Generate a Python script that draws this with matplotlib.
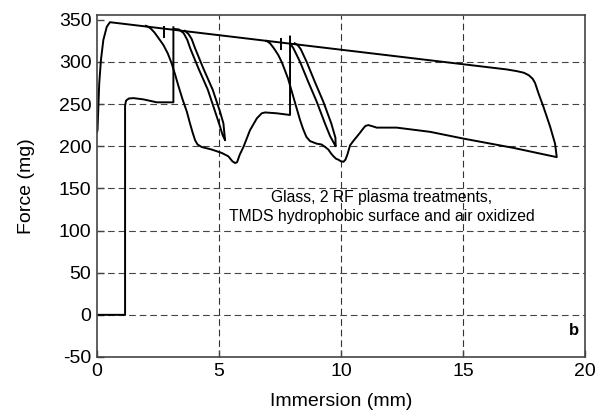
import numpy as np
import matplotlib
matplotlib.use("Agg")
import matplotlib.pyplot as plt

plt.rcParams['font.family'] = ['Liberation Sans', 'DejaVu Sans']
plt.rcParams['axes.unicode_minus'] = False

# first immersion: baseline, contact jump, plateau, jump to the top line
first_x = [0.05, 1.15, 1.15, 1.19, 1.30, 1.49, 1.90, 2.45, 3.13, 3.13]
first_f = [0, 0, 248, 254, 256.5, 257, 255.5, 252, 252, 341]

# hairpin after the first jump (turn at ~5 mm)
hp1_x = [3.13, 3.35, 3.55, 3.70, 3.82, 4.16, 4.54, 4.84, 5.00, 5.15, 5.25,
         5.22, 5.18, 5.04, 4.74, 4.36, 4.02, 3.88, 3.75, 3.60]
hp1_f = [339, 338.5, 334, 326, 316, 292, 267, 241, 227, 213, 207,
         215, 227, 241, 267, 292, 316, 327, 333, 336.8]

# second cycle: off the top line, minimum near 5.7 mm, plateau, jump
cyc2_x = [2.00, 2.10, 2.20, 2.35, 2.50, 2.72, 2.90, 3.06, 3.20, 3.33, 3.50,
          3.68, 3.81, 3.92, 4.02, 4.12, 4.29, 4.70, 5.11, 5.38, 5.55, 5.66,
          5.74, 5.85, 6.00, 6.27, 6.55, 6.75, 6.89, 7.36, 7.91, 7.91]
cyc2_f = [342.7, 341.5, 339.5, 335, 329, 320, 310, 298, 285, 272, 256,
          241, 227, 216, 207, 202, 199, 196, 192, 188, 182, 180,
          181, 190, 199, 219, 233, 239, 240, 239, 237, 330]

# hairpin after the second jump (turn at ~10 mm)
hp2_x = [7.91, 8.05, 8.32, 8.66, 9.00, 9.34, 9.55, 9.72, 9.78,
         9.77, 9.60, 9.27, 8.93, 8.59, 8.35, 8.22, 8.10]
hp2_f = [322, 316, 300, 276, 253, 227, 212, 203, 200,
         210, 227, 253, 276, 300, 315, 320, 322]

# main loop: initial rise, top line, turn at 18.8 mm, lower curve back to 7 mm
main_x = [0.0, 0.02, 0.09, 0.16, 0.26, 0.40, 0.53, 16.79, 17.20, 17.50,
          17.70, 17.85, 17.95, 18.10, 18.29, 18.57, 18.77, 18.84,
          17.06, 15.01, 13.65, 12.28, 11.46, 11.30, 11.12, 11.00, 10.91,
          10.78, 10.64, 10.50, 10.37, 10.26, 10.18, 10.10, 10.00, 9.89,
          9.80, 9.69, 9.60, 9.48, 9.35, 9.20, 9.00, 8.73, 8.58, 8.45,
          8.32, 8.20, 8.08, 7.95, 7.83, 7.70, 7.58, 7.43, 7.25, 7.09, 6.95]
main_f = [217, 219, 274, 302, 326, 341.6, 347, 291, 289, 287,
          284, 280, 275, 262, 247, 223, 203, 187,
          198, 209, 217, 222, 222, 223.5, 225, 224, 221,
          216, 211, 206, 201, 190, 184, 181.5, 182, 184,
          185, 188, 191, 196, 199, 202, 203, 206, 211, 220,
          231, 243, 255, 268, 280, 290, 299, 308, 316, 322, 324.8]

# short vertical marks on the top line
mark_x = [2.75, 7.53]
mark_lo = [328.6, 314]
mark_hi = [342.8, 327.8]

fig = plt.figure(figsize=(5.97, 4.12), dpi=100)
ax = fig.add_axes([0.1625, 0.1335, 0.8175, 0.83])

lw = 1.4
for xs, fs in [(first_x, first_f), (hp1_x, hp1_f), (cyc2_x, cyc2_f),
               (hp2_x, hp2_f), (main_x, main_f)]:
    ax.plot(xs, fs, color='black', lw=lw, solid_joinstyle='round')
ax.vlines(mark_x, mark_lo, mark_hi, color='black', lw=lw)

ax.set_xlim(0, 20)
ax.set_ylim(-50, 355.5)
ax.set_xticks([0, 5, 10, 15, 20])
ax.set_yticks(np.arange(-50, 351, 50))

for v in [5, 10, 15]:
    ax.axvline(v, color='#333333', lw=0.8, dashes=(6, 3.5), zorder=0)
for v in range(0, 301, 50):
    ax.axhline(v, color='#444444', lw=0.8, dashes=(6, 3.5), zorder=0)

for s in ax.spines.values():
    s.set_color('#444444')
    s.set_linewidth(1.2)
ax.tick_params(direction='in', length=5, width=1, color='#444444',
               labelsize=14, pad=4)

ax.set_xlabel('Immersion (mm)', fontsize=14, labelpad=10)
ax.set_ylabel('Force (mg)', fontsize=14, labelpad=17)

ax.text(11.68, 128, 'Glass, 2 RF plasma treatments,\nTMDS hydrophobic surface and air oxidized',
        ha='center', va='center', fontsize=11.3, linespacing=1.3)
ax.text(19.75, -18, 'b', ha='right', va='center', fontsize=12, fontweight='bold')

fig.savefig('out.png', dpi=100)
